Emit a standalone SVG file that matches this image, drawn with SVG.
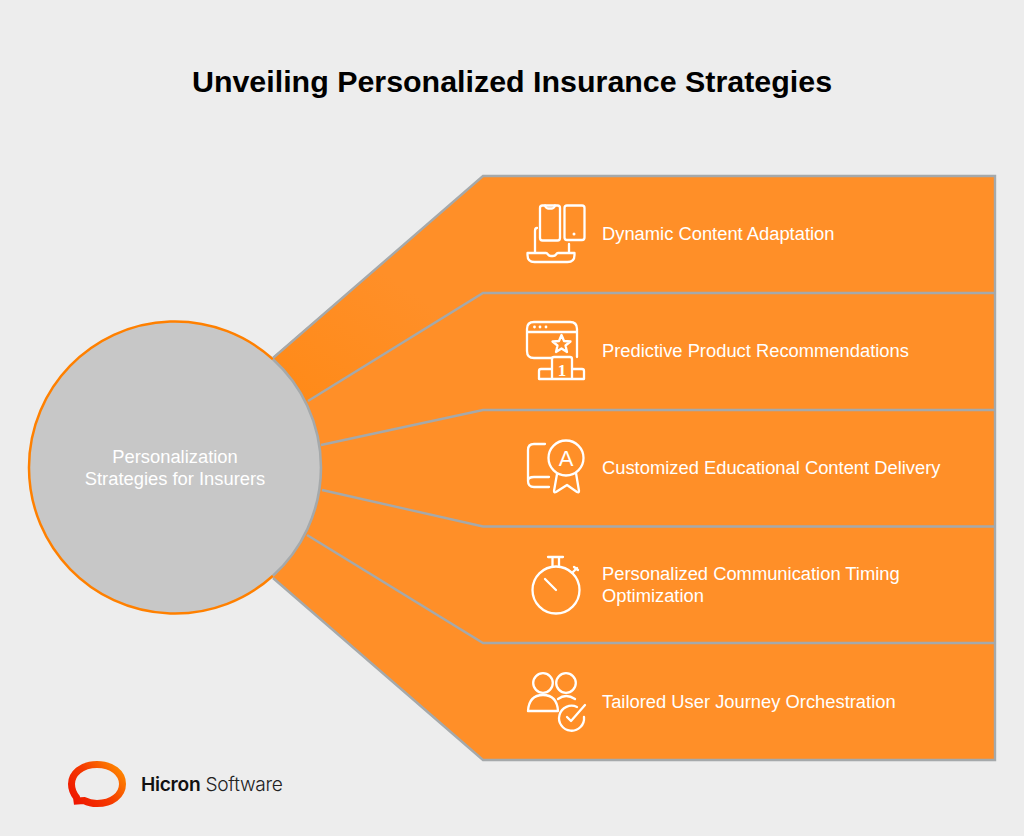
<svg xmlns="http://www.w3.org/2000/svg" width="1024" height="836" viewBox="0 0 1024 836">
<style>
.title{font:bold 30.4px "Liberation Sans",Arial,sans-serif;fill:#000;text-anchor:middle}
.lbl{font:18.35px "Liberation Sans",Arial,sans-serif;fill:#fff}
.ctr{font:18.35px "Liberation Sans",Arial,sans-serif;fill:#fff;text-anchor:middle}
.sep{fill:none;stroke:#a5a9ab;stroke-width:2.400}
.ico{fill:none;stroke:#fff;stroke-width:2.300;stroke-linecap:round;stroke-linejoin:round}
</style>
<defs>
<linearGradient id="seg1" gradientUnits="userSpaceOnUse" x1="290" y1="400" x2="380" y2="270"><stop offset="0" stop-color="#ff8a18"/><stop offset="1" stop-color="#ff8f28"/></linearGradient>
<linearGradient id="logoG" gradientUnits="userSpaceOnUse" x1="72" y1="806" x2="122" y2="764"><stop offset="0" stop-color="#ee1100"/><stop offset="0.5" stop-color="#f53a00"/><stop offset="1" stop-color="#ff9000"/></linearGradient>
</defs>
<rect width="1024" height="836" fill="#ededed"/>
<text class="title" x="512" y="91.500">Unveiling Personalized Insurance Strategies</text>
<g id="fan">
<path d="M273 357L483 176H995V760H483L273 578L310 467Z" fill="#ff8f28"/>
<path d="M273 357L483 176V293L308 401L290 400Z" fill="url(#seg1)"/>
</g>
<g id="center-node">
<circle cx="175" cy="467.500" r="146" fill="#c7c7c7"/>
<path d="M273 359.300A146 146 0 1 0 273 575.700" fill="none" stroke="#ff8000" stroke-width="2.500"/>
<path d="M273 359.300A146 146 0 0 1 273 575.700" fill="none" stroke="#a5a9ab" stroke-width="2.600"/>
<text class="ctr" x="175" y="462.500">Personalization</text>
<text class="ctr" x="175" y="484.500">Strategies for Insurers</text>
</g>
<g id="connectors">
<path class="sep" d="M273 358L483 176H995V760H483L273 578"/>
<path class="sep" d="M308 401L483 293H995"/>
<path class="sep" d="M321 445L483 410H995"/>
<path class="sep" d="M322 490L483 526.500H995"/>
<path class="sep" d="M307 535L483 643H995"/>
</g>
<g id="node-1">
<rect class="ico" x="540" y="205.500" width="20" height="35" rx="2.500"/>
<path class="ico" d="M545 205.500q1 3 3 3h4q2 0 3-3"/>
<rect class="ico" x="564.500" y="205.500" width="20" height="34.500" rx="2.500"/>
<circle cx="574" cy="234" r="1.500" fill="#fff"/>
<path class="ico" d="M537 228Q535 228 535 231V253M569 244V253M527.500 253H546q1 0 2 1.500t3 1.500h2q2 0 3-1.500t2-1.500H574.500V255q0 7-7 7H534.500q-7 0-7-7Z"/>
<text class="lbl" x="602" y="239.500">Dynamic Content Adaptation</text>
</g>
<g id="node-2">
<path class="ico" d="M552 358H534q-7 0-7-7V329q0-7 7-7H570q7 0 7 7V357M527 332H577"/>
<circle cx="534.500" cy="327" r="1.400" fill="#fff"/><circle cx="540" cy="327" r="1.400" fill="#fff"/><circle cx="546" cy="327" r="1.400" fill="#fff"/>
<path class="ico" d="M561.500 335L564 341L570.500 341.500L565.500 345.500L567 352L561.500 348.500L556 352L557.500 345.500L552.500 341.500L559 341Z"/>
<path class="ico" d="M552 379V359q0-2 2-2H570q2 0 2 2V379M552 369H541q-2 0-2 2V379H584V371q0-2-2-2H572"/>
<text x="562" y="376" font-family="Liberation Serif,serif" font-weight="bold" font-size="17" fill="#fff" text-anchor="middle">1</text>
<text class="lbl" x="602" y="356.500">Predictive Product Recommendations</text>
</g>
<g id="node-3">
<path class="ico" d="M545 444H534q-6 0-6 6V481q0 6 6 6H549M528 481q0-4 6-4H549"/>
<circle class="ico" cx="566" cy="458" r="17.500"/>
<path class="ico" d="M557 474L554 491q0 2 2 1L567 485L577 492q2 1 2-1L576 473"/>
<text x="566" y="465.500" font-family="Liberation Sans,sans-serif" font-size="22" fill="#fff" text-anchor="middle">A</text>
<text class="lbl" x="602" y="473.500">Customized Educational Content Delivery</text>
</g>
<g id="node-4">
<circle class="ico" cx="556" cy="590" r="23.500"/>
<path class="ico" d="M548 557H563M552.500 557V566.500M559 557V566.500M572 573L577 568M574 567L578 570M545 579L556 590"/>
<text class="lbl" x="602" y="579.500">Personalized Communication Timing</text>
<text class="lbl" x="602" y="601.500">Optimization</text>
</g>
<g id="node-5">
<circle class="ico" cx="543" cy="683" r="9.800"/>
<circle class="ico" cx="566" cy="683" r="9.800"/>
<path class="ico" d="M528 711H558Q557 695 543 695Q529 695 528 711Z"/>
<path class="ico" d="M558 699Q566 693 575 699"/>
<path class="ico" d="M577 707A12.500 12.500 0 1 0 584 717M567 717L571 721L585 705"/>
<text class="lbl" x="602" y="707.500">Tailored User Journey Orchestration</text>
</g>
<g id="logo">
<path d="M97 764.500C81 764.500 71.500 774 71.500 784C71.500 789 73 793 76.500 797.500L77 801L84 800.500C88 802.500 92 803.500 97 803.500C112 803.500 122.500 795 122.500 784C122.500 773 112 764.500 97 764.500Z" fill="none" stroke="url(#logoG)" stroke-width="7"/>
<text x="141" y="791" font-family="Inter,Liberation Sans,sans-serif" font-size="19.200" font-weight="600" fill="#111" letter-spacing="-0.300">Hicron<tspan font-weight="300" fill="#222"> Software</tspan></text>
</g>
</svg>
